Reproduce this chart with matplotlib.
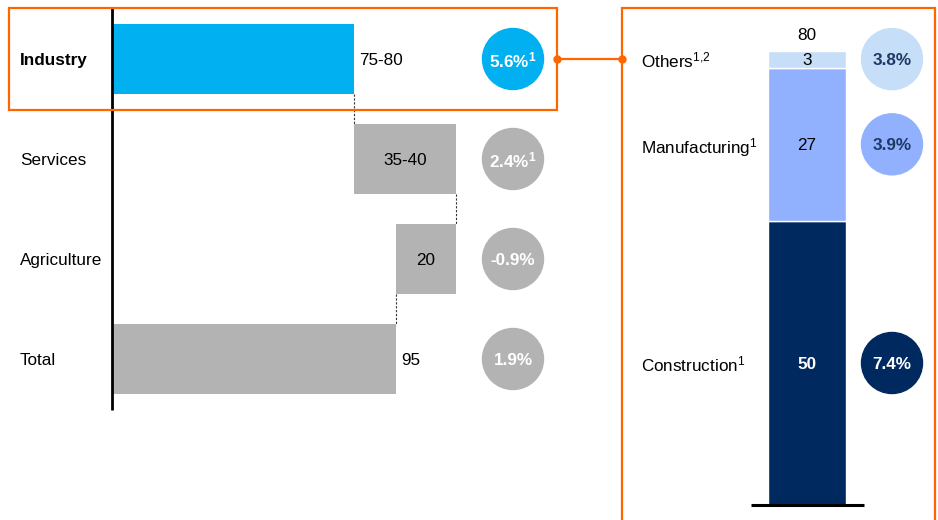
import matplotlib
matplotlib.use('Agg')
import matplotlib.pyplot as plt
from matplotlib.patches import Rectangle

plt.rcParams['font.family'] = ['Liberation Sans', 'DejaVu Sans']
plt.rcParams['mathtext.default'] = 'regular'

# 左侧：瀑布图数据
categories = ['Industry', 'Services', 'Agriculture', 'Total']
values = [81, 34, -20, 95]
value_labels = ['75-80', '35-40', '20', '95']
growth_left = ['5.6%$^{1}$', '2.4%$^{1}$', '-0.9%', '1.9%']

# 右侧：工业拆分
segments = ['Construction$^{1}$', 'Manufacturing$^{1}$', 'Others$^{1{,}2}$']
seg_values = [50, 27, 3]
growth_right = ['7.4%', '3.9%', '3.8%']
total_right = '80'

orange = '#FF6600'
cyan = '#00B0F0'
grey = '#B3B3B3'
seg_colors = ['#002960', '#91B1FF', '#C6DEF8']
circle_text_right = ['white', '#1F3864', '#1F3864']
fs = 12.3

fig = plt.figure(figsize=(9.38, 5.2), dpi=100)

# ---------- 左侧瀑布图 ----------
ax = fig.add_axes([0, 0, 620 / 938, 1])
ppu = 2.99  # 每单位像素
ax.set_xlim(-112 / ppu, (620 - 112) / ppu)
ax.set_ylim(4.61, -0.59)
ax.axis('off')

starts = []
run = 0
for i, v in enumerate(values):
    if i == len(values) - 1:
        starts.append(0)
    elif v >= 0:
        starts.append(run)
        run += v
    else:
        run += v
        starts.append(run)
widths = [abs(v) for v in values]
bar_colors = [cyan, grey, grey, grey]
ax.barh(range(len(categories)), widths, left=starts, height=0.7, color=bar_colors)

# 虚线连接
ends = [starts[0] + widths[0], starts[1] + widths[1], starts[2]]
for i, x in enumerate(ends):
    ax.plot([x, x], [i + 0.35, i + 0.65], ls=(0, (2, 1.5)), color='#333333', lw=0.8)

ax.plot([0, 0], [-0.52, 3.51], color='black', lw=2, solid_capstyle='butt')

for i, (c, lab) in enumerate(zip(categories, value_labels)):
    ax.text(-92 / ppu, i, c, ha='left', va='center_baseline', fontsize=fs,
            fontweight='bold' if i == 0 else 'normal')
    if i in (1, 2):
        ax.text(starts[i] + widths[i] / 2, i, lab, ha='center', va='center_baseline', fontsize=fs)
    else:
        ax.text(starts[i] + widths[i] + 5 / ppu, i, lab, ha='left', va='center_baseline', fontsize=fs)

cx = (513 - 112) / ppu
ax.scatter([cx] * 4, range(4), s=1930, color=[cyan, grey, grey, grey], clip_on=False, zorder=3)
for i, g in enumerate(growth_left):
    ax.text(cx, i, g, ha='center', va='center_baseline', fontsize=fs, fontweight='bold',
            color='white', zorder=4)

# 左侧橙色框
ax.add_patch(Rectangle((-103 / ppu, -0.51), (557 - 9) / ppu, 1.02, fill=False,
                       edgecolor=orange, lw=1.6, clip_on=False, zorder=5))
ax.plot([445 / ppu, 510 / ppu], [0, 0], color=orange, lw=1.6, marker='o',
        markersize=5, clip_on=False, zorder=5)

# ---------- 右侧堆积柱 ----------
ax2 = fig.add_axes([622 / 938, 0, 316 / 938, 1])
ppx = 78.0
ppy = 5.68
ax2.set_xlim(-185 / ppx, 131 / ppx)
ax2.set_ylim(-15 / ppy, 505 / ppy)
ax2.axis('off')

bottom = 0
centers = []
for v, col in zip(seg_values, seg_colors):
    ax2.bar(0, v, bottom=bottom, width=1.0, color=col, edgecolor='white', lw=1)
    centers.append(bottom + v / 2)
    bottom += v

ax2.plot([-56 / ppx, 57 / ppx], [0, 0], color='black', lw=2.2, solid_capstyle='butt')

for i, (s, v, c) in enumerate(zip(segments, seg_values, centers)):
    ax2.text(-166 / ppx, c, s, ha='left', va='center_baseline', fontsize=fs)
    ax2.text(0, c, str(v), ha='center', va='center_baseline', fontsize=fs,
             fontweight='bold' if i == 0 else 'normal',
             color='white' if i == 0 else 'black')
ax2.text(0, bottom + 1.3, total_right, ha='center', va='bottom', fontsize=fs)

rcx = 85 / ppx
ax2.scatter([rcx] * 3, centers, s=1930, color=seg_colors, clip_on=False, zorder=3)
for c, g, tc in zip(centers, growth_right, circle_text_right):
    ax2.text(rcx, c, g, ha='center', va='center_baseline', fontsize=fs, fontweight='bold',
             color=tc, zorder=4)

# 右侧橙色框
ax2.add_patch(Rectangle((-185 / ppx, -40 / ppy), 313 / ppx, 537 / ppy, fill=False,
                        edgecolor=orange, lw=1.6, clip_on=False, zorder=5))

fig.savefig('out.png', dpi=100)
